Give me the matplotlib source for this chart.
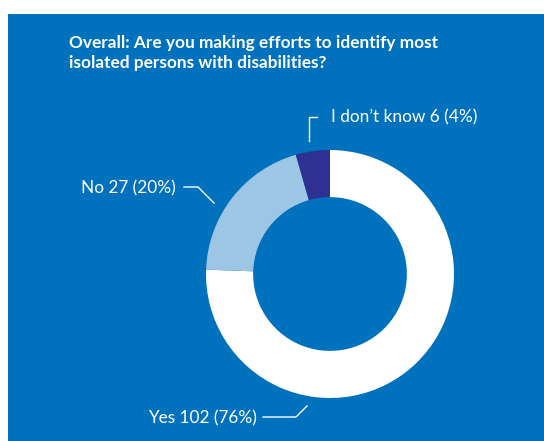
import matplotlib
matplotlib.use("Agg")
import matplotlib.pyplot as plt
from matplotlib.patches import Rectangle

title = "Overall: Are you making efforts to identify most\nisolated persons with disabilities?"
categories = ["Yes", "No", "I don\u2019t know"]
counts = [102, 27, 6]
percents = [76, 20, 4]
colors = ["#FFFFFF", "#9DC6E5", "#2E3192"]
bg = "#0071BC"

W, H = 544, 441
fig = plt.figure(figsize=(W / 100, H / 100), dpi=100, facecolor="white")
ax = fig.add_axes([0, 0, 1, 1])
ax.add_patch(Rectangle((8, 0), W - 8, H - 14, facecolor=bg, edgecolor="none", zorder=0))

cx, cy, R = 330, H - 274, 124
ax.pie(counts, colors=colors, startangle=90, counterclock=False,
       center=(cx, cy), radius=R, frame=True,
       wedgeprops=dict(width=R * 0.38, edgecolor="none"))
ax.set_xlim(0, W)
ax.set_ylim(0, H)
ax.set_aspect("equal")
ax.axis("off")

fam = ["Lato", "DejaVu Sans"]
tfs = 12.45
ax.text(69, H - 43, title.split("\n")[0], color="white", fontsize=tfs, fontweight="bold",
        family=fam, ha="left", va="center")
ax.text(69, H - 63, title.split("\n")[1], color="white", fontsize=tfs, fontweight="bold",
        family=fam, ha="left", va="center")

labels = [f"{c} {n} ({p}%)" for c, n, p in zip(categories, counts, percents)]
lfs = 12.4
# Yes
ax.text(148, H - 418, labels[0], color="white", fontsize=lfs, family=fam,
        ha="left", va="center")
ax.plot([263, 296, 307], [H - 417, H - 417, H - 406], color="white", lw=1)
# No
ax.text(81, H - 188, labels[1], color="white", fontsize=lfs, family=fam,
        ha="left", va="center")
ax.plot([184, 198, 214], [H - 187, H - 187, H - 203], color="white", lw=1)
# I don't know
ax.text(331, H - 117, labels[2], color="white", fontsize=lfs, family=fam,
        ha="left", va="center")
ax.plot([309, 309, 317], [H - 141, H - 117, H - 117], color="white", lw=1)

fig.savefig("out.png", dpi=100, facecolor="white")
